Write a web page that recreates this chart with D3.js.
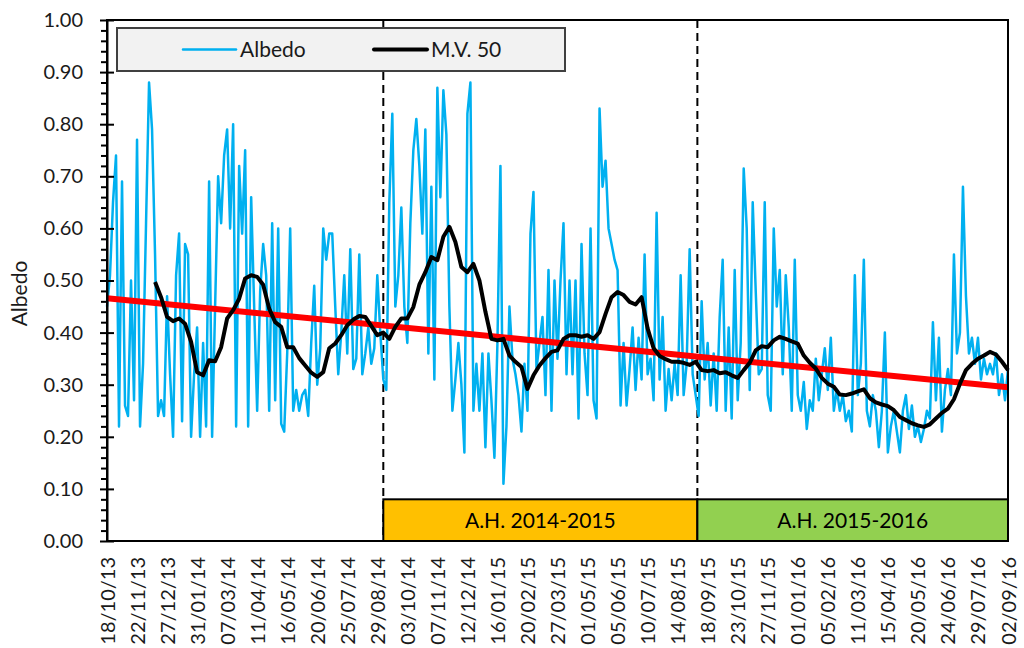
<!DOCTYPE html>
<html>
<head>
<meta charset="utf-8">
<script src="https://cdn.jsdelivr.net/npm/d3@7/dist/d3.min.js"></script>
<style>
  body { margin: 0; background: #fff; }
  svg { display: block; font-family: Lato, "Open Sans", sans-serif; }
  .tick text { fill: #1a1a1a; }
</style>
</head>
<body>
<div id="chart"></div>
<script>
// ---------------------------------------------------------------------
// Data read off the reference (albedo sampled every 3.5 days)
// ---------------------------------------------------------------------
const FIRST_DAY = '18/10/13';
const LAST_DAY = '02/09/16';
const ALBEDO_STEP = 3.5; // days between albedo samples

const albedo = [
  // oct 13 - apr 14
  0.45, 0.51, 0.65, 0.74, 0.22, 0.69, 0.26, 0.24, 0.50, 0.27, 0.77, 0.22, 0.34, 0.61, 0.88, 0.79, 0.55, 0.24, 0.27, 0.24,
  0.47, 0.32, 0.20, 0.51, 0.59, 0.23, 0.57, 0.55, 0.20, 0.32, 0.41, 0.20, 0.38, 0.22, 0.69, 0.20, 0.45, 0.70, 0.61, 0.74,
  0.79, 0.60, 0.80, 0.22, 0.72, 0.59, 0.75, 0.22, 0.66, 0.45,
  // apr 14 - sep 14
  0.25, 0.48, 0.57, 0.51, 0.25, 0.61, 0.27, 0.60, 0.225, 0.21, 0.36, 0.60, 0.25, 0.29, 0.25, 0.28, 0.29, 0.24, 0.38, 0.49,
  0.30, 0.37, 0.60, 0.54, 0.59, 0.59, 0.45, 0.32, 0.40, 0.51, 0.36, 0.56, 0.33, 0.35, 0.55, 0.32, 0.36, 0.41, 0.34, 0.37,
  0.51, 0.40, 0.31, 0.29, 0.65, 0.82, 0.45, 0.51, 0.64, 0.45,
  // sep 14 - mar 15
  0.38, 0.61, 0.75, 0.81, 0.72, 0.59, 0.79, 0.36, 0.68, 0.31, 0.87, 0.66, 0.865, 0.78, 0.45, 0.25, 0.31, 0.38, 0.30, 0.17,
  0.82, 0.88, 0.25, 0.34, 0.25, 0.36, 0.18, 0.36, 0.27, 0.16, 0.38, 0.72, 0.11, 0.22, 0.45, 0.35, 0.32, 0.28, 0.21, 0.34,
  0.25, 0.59, 0.67, 0.33, 0.38, 0.43, 0.28, 0.52, 0.25, 0.50,
  // mar 15 - sep 15
  0.35, 0.50, 0.61, 0.32, 0.50, 0.32, 0.50, 0.235, 0.57, 0.36, 0.28, 0.60, 0.27, 0.235, 0.83, 0.68, 0.73, 0.60, 0.57, 0.54,
  0.52, 0.26, 0.38, 0.26, 0.33, 0.41, 0.29, 0.39, 0.31, 0.55, 0.32, 0.35, 0.27, 0.63, 0.31, 0.43, 0.25, 0.33, 0.27, 0.34,
  0.28, 0.51, 0.28, 0.34, 0.56, 0.32, 0.28, 0.24, 0.46, 0.31,
  // sep 15 - mar 16
  0.38, 0.26, 0.36, 0.25, 0.43, 0.54, 0.25, 0.41, 0.235, 0.52, 0.27, 0.38, 0.715, 0.60, 0.29, 0.65, 0.48, 0.32, 0.33, 0.65,
  0.28, 0.25, 0.60, 0.45, 0.52, 0.32, 0.51, 0.41, 0.25, 0.54, 0.28, 0.25, 0.305, 0.215, 0.27, 0.25, 0.35, 0.27, 0.32, 0.37,
  0.29, 0.39, 0.25, 0.29, 0.25, 0.28, 0.23, 0.25, 0.21, 0.51,
  // mar 16 - sep 16
  0.28, 0.34, 0.54, 0.25, 0.22, 0.28, 0.25, 0.18, 0.25, 0.40, 0.17, 0.22, 0.25, 0.21, 0.17, 0.25, 0.28, 0.215, 0.26, 0.20,
  0.22, 0.19, 0.215, 0.25, 0.235, 0.42, 0.27, 0.39, 0.21, 0.29, 0.33, 0.28, 0.55, 0.36, 0.40, 0.68, 0.47, 0.36, 0.39, 0.34,
  0.39, 0.31, 0.35, 0.32, 0.34, 0.32, 0.36, 0.28, 0.32, 0.27, 0.33,
];

// 50-day moving average, read weekly starting 56 days after the first day
const MA_OFFSET = 56;
const MA_STEP = 7;
const movingAvg = [
  0.497, 0.468, 0.430, 0.422, 0.427, 0.417, 0.382, 0.324, 0.318, 0.347, 0.345, 0.372, 0.427, 0.443, 0.465, 0.504, 0.510, 0.507,
  0.492, 0.446, 0.420, 0.411, 0.372, 0.372, 0.351, 0.337, 0.323, 0.315, 0.324, 0.370, 0.379, 0.395, 0.414, 0.425, 0.432, 0.430,
  0.413, 0.395, 0.400, 0.388, 0.411, 0.427, 0.427,
  0.449, 0.492, 0.516, 0.545, 0.539, 0.584, 0.603, 0.574, 0.526, 0.516, 0.532, 0.500, 0.440, 0.388, 0.385, 0.388, 0.356, 0.344,
  0.334, 0.292, 0.318, 0.337, 0.351, 0.363, 0.366,
  0.388, 0.395, 0.395, 0.392, 0.395, 0.388, 0.401, 0.436, 0.468, 0.478, 0.472, 0.459, 0.454, 0.468, 0.408, 0.370, 0.355, 0.349,
  0.344, 0.344, 0.342, 0.338, 0.344, 0.328, 0.326,
  0.328, 0.322, 0.324, 0.318, 0.313, 0.328, 0.342, 0.366, 0.374, 0.372, 0.385, 0.392, 0.388, 0.383, 0.379, 0.356, 0.342, 0.331,
  0.313, 0.302, 0.296, 0.281, 0.280, 0.283, 0.287,
  0.291, 0.274, 0.266, 0.262, 0.259, 0.251, 0.238, 0.232, 0.226, 0.222, 0.219, 0.224, 0.235, 0.246, 0.254, 0.272, 0.302, 0.328,
  0.340, 0.350, 0.356, 0.363, 0.358, 0.344, 0.328,
];

// Linear trend (red), end points
const trendDays = ['18/10/13', '02/09/16'];
const trendValues = [0.466, 0.295];

// Hydrological years
const periodLabels = ['A.H. 2014-2015', 'A.H. 2015-2016'];
const periodStarts = ['05/09/14', '06/09/15'];
const periodEnds = ['06/09/15', '02/09/16'];
const periodColors = ['#FFC000', '#92D050'];
const PERIOD_TOP = 0.08;

// Axis ticks
const xTickLabels = [
  '18/10/13', '22/11/13', '27/12/13', '31/01/14', '07/03/14', '11/04/14', '16/05/14', '20/06/14', '25/07/14', '29/08/14',
  '03/10/14', '07/11/14', '12/12/14', '16/01/15', '20/02/15', '27/03/15', '01/05/15', '05/06/15', '10/07/15', '14/08/15',
  '18/09/15', '23/10/15', '27/11/15', '01/01/16', '05/02/16', '11/03/16', '15/04/16', '20/05/16', '24/06/16', '29/07/16',
  '02/09/16',
];
const yTicks = [0, 0.1, 0.2, 0.3, 0.4, 0.5, 0.6, 0.7, 0.8, 0.9, 1.0];
const yMinorTicks = [0.02, 0.04, 0.06, 0.08, 0.12, 0.14, 0.16, 0.18, 0.22, 0.24, 0.26, 0.28, 0.32, 0.34, 0.36, 0.38,
  0.42, 0.44, 0.46, 0.48, 0.52, 0.54, 0.56, 0.58, 0.62, 0.64, 0.66, 0.68, 0.72, 0.74, 0.76, 0.78,
  0.82, 0.84, 0.86, 0.88, 0.92, 0.94, 0.96, 0.98];

const legendLabels = ['Albedo', 'M.V. 50'];

// ---------------------------------------------------------------------
const W = 1024, H = 648;
const plot = { left: 107, right: 1008, top: 20, bottom: 541 };
const BLUE = '#00B0F0', RED = '#FF0000';

const parse = d3.timeParse('%d/%m/%y');
const fmt = d3.timeFormat('%d/%m/%y');
const DAY = 864e5;
const t0 = parse(FIRST_DAY);

const x = d3.scaleTime().domain([t0, parse(LAST_DAY)]).range([plot.left, plot.right]);
const y = d3.scaleLinear().domain([0, 1]).range([plot.bottom, plot.top]);

const albedoPts = albedo.map((v, i) => ({ date: new Date(+t0 + i * ALBEDO_STEP * DAY), v }));
const maPts = movingAvg.map((v, i) => ({ date: new Date(+t0 + (MA_OFFSET + i * MA_STEP) * DAY), v }));
const trendPts = trendDays.map((d, i) => ({ date: parse(d), v: trendValues[i] }));

const svg = d3.select('#chart').append('svg').attr('width', W).attr('height', H);
svg.append('rect').attr('width', W).attr('height', H).attr('fill', '#fff');

// Dashed separators at the start of each hydrological year
svg.append('g').selectAll('line')
  .data(periodStarts)
  .enter().append('line')
  .attr('x1', d => x(parse(d))).attr('x2', d => x(parse(d)))
  .attr('y1', plot.top).attr('y2', plot.bottom)
  .attr('stroke', '#000').attr('stroke-width', 2)
  .attr('stroke-dasharray', '8,5');

// Period boxes along the bottom
const periods = periodLabels.map((label, i) => ({
  label, start: parse(periodStarts[i]), end: parse(periodEnds[i]), color: periodColors[i],
}));
const pg = svg.append('g');
pg.selectAll('rect')
  .data(periods)
  .enter().append('rect')
  .attr('x', d => x(d.start)).attr('width', d => x(d.end) - x(d.start))
  .attr('y', y(PERIOD_TOP)).attr('height', y(0) - y(PERIOD_TOP))
  .attr('fill', d => d.color)
  .attr('stroke', '#000').attr('stroke-width', 2);
pg.selectAll('text')
  .data(periods)
  .enter().append('text')
  .attr('x', d => (x(d.start) + x(d.end)) / 2)
  .attr('y', (y(PERIOD_TOP) + y(0)) / 2)
  .attr('dy', '0.36em')
  .attr('text-anchor', 'middle')
  .attr('font-size', 21).attr('fill', '#000')
  .text(d => d.label);

// Series
const line = d3.line().x(d => x(d.date)).y(d => y(d.v));

svg.append('path').datum(albedoPts)
  .attr('d', line).attr('fill', 'none')
  .attr('stroke', BLUE).attr('stroke-width', 2.5).attr('stroke-linejoin', 'round');

svg.append('path').datum(trendPts)
  .attr('d', line).attr('fill', 'none')
  .attr('stroke', RED).attr('stroke-width', 6);

svg.append('path').datum(maPts)
  .attr('d', line).attr('fill', 'none')
  .attr('stroke', '#000').attr('stroke-width', 4).attr('stroke-linejoin', 'round');

// Frame
svg.append('rect')
  .attr('x', plot.left).attr('y', plot.top)
  .attr('width', plot.right - plot.left).attr('height', plot.bottom - plot.top)
  .attr('fill', 'none').attr('stroke', '#000').attr('stroke-width', 2);

// Y axis: labelled major ticks (outside), same ticks inside, minor ticks outside
const yAxis = svg.append('g').attr('transform', `translate(${plot.left},0)`)
  .call(d3.axisLeft(y).tickValues(yTicks).tickFormat(d3.format('.2f')).tickSizeInner(7).tickSizeOuter(0).tickPadding(17));
yAxis.selectAll('text').attr('font-size', 20).attr('font-family', 'Lato, "Open Sans", sans-serif');
yAxis.select('.domain').attr('stroke', '#000').attr('stroke-width', 2);
yAxis.selectAll('.tick line').attr('stroke-width', 2);

svg.append('g').attr('transform', `translate(${plot.left},0)`)
  .call(d3.axisRight(y).tickValues(yTicks).tickFormat('').tickSizeInner(7).tickSizeOuter(0))
  .call(g => g.select('.domain').remove())
  .selectAll('.tick line').attr('stroke-width', 2);

svg.append('g').attr('transform', `translate(${plot.left},0)`)
  .call(d3.axisLeft(y).tickValues(yMinorTicks).tickFormat('').tickSizeInner(6).tickSizeOuter(0))
  .call(g => g.select('.domain').remove())
  .selectAll('.tick line').attr('stroke-width', 2);

// X axis: rotated dates, no tick marks
const xAxis = svg.append('g').attr('transform', `translate(0,${plot.bottom})`)
  .call(d3.axisBottom(x).tickValues(xTickLabels.map(parse)).tickFormat(fmt).tickSize(0));
xAxis.select('.domain').remove();
xAxis.selectAll('text')
  .attr('font-size', 20).attr('font-family', 'Lato, "Open Sans", sans-serif')
  .attr('transform', 'rotate(-90)')
  .attr('x', -16).attr('y', 0).attr('dy', '0.35em')
  .style('text-anchor', 'end');

// Y axis title
svg.append('text')
  .attr('transform', `translate(27,${(y(0.45) + y(0.5)) / 2}) rotate(-90)`)
  .attr('text-anchor', 'middle')
  .attr('font-size', 21).attr('fill', '#1a1a1a')
  .text('Albedo');

// Legend
const lg = svg.append('g');
lg.append('rect')
  .attr('x', 117).attr('y', 28).attr('width', 448).attr('height', 43)
  .attr('fill', '#F2F2F2').attr('stroke', '#404040').attr('stroke-width', 2);
const legendItems = [
  { label: legendLabels[0], color: BLUE, width: 2.5, x0: 183 },
  { label: legendLabels[1], color: '#000', width: 4, x0: 374 },
];
legendItems.forEach(d => {
  lg.append('line')
    .attr('x1', d.x0).attr('x2', d.x0 + 53).attr('y1', 49.5).attr('y2', 49.5)
    .attr('stroke', d.color).attr('stroke-width', d.width).attr('stroke-linecap', 'round');
  lg.append('text')
    .attr('x', d.x0 + 57).attr('y', 57)
    .attr('font-size', 21).attr('fill', '#1a1a1a')
    .text(d.label);
});
</script>
</body>
</html>
